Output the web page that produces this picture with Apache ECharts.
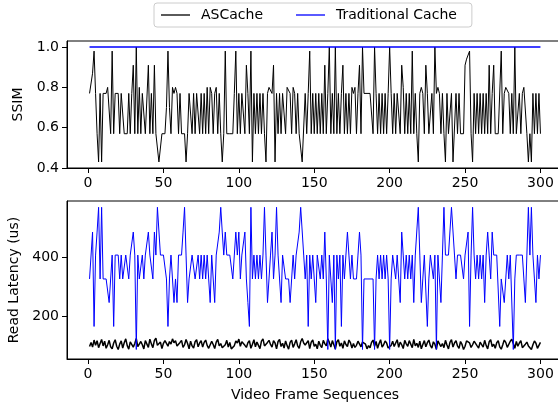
<!DOCTYPE html>
<html>
<head>
<meta charset="utf-8">
<script src="https://cdn.jsdelivr.net/npm/echarts@6/dist/echarts.min.js"></script>
<style>
  html, body { margin: 0; padding: 0; background: #fff; }
  #chart { width: 558px; height: 406px; }
</style>
</head>
<body>
<div id="chart"></div>
<script>
// frame index runs 1..300
const xTicks = [0, 50, 100, 150, 200, 250, 300]
const ssimTicks = [0.4, 0.6, 0.8, 1.0]
const latencyTicks = [200, 400]

// SSIM, ASCache
const ssimAscache = [
  0.77, 0.77, 0.87, 0.98, 0.77, 0.57, 0.43, 0.77, 0.43, 0.77,
  0.77, 0.77, 0.80, 0.80, 0.57, 0.98, 0.57, 0.77, 0.77, 0.77,
  0.57, 0.77, 0.77, 0.57, 0.57, 0.57, 0.77, 0.57, 0.77, 0.91,
  0.57, 1.00, 0.57, 0.80, 0.57, 0.77, 0.77, 0.57, 0.57, 0.91,
  0.57, 0.77, 0.57, 0.91, 0.57, 0.57, 0.43, 0.43, 0.57, 0.57,
  0.57, 0.70, 0.98, 0.70, 0.57, 0.80, 0.77, 0.80, 0.77, 0.57,
  0.77, 0.57, 0.57, 0.57, 0.43, 0.57, 0.77, 0.77, 0.57, 0.77,
  0.57, 0.77, 0.77, 0.57, 0.77, 0.57, 0.77, 0.57, 0.80, 0.57,
  0.80, 0.77, 0.57, 0.77, 0.80, 0.57, 0.77, 0.57, 0.43, 0.57,
  0.98, 0.57, 0.57, 0.57, 0.57, 0.57, 0.77, 0.98, 0.57, 0.77,
  0.57, 0.77, 0.77, 0.57, 0.91, 0.77, 0.57, 0.98, 0.43, 0.77,
  0.57, 0.77, 0.57, 0.77, 0.57, 0.77, 0.57, 0.43, 0.77, 0.80,
  0.80, 0.77, 0.91, 0.43, 0.77, 0.57, 0.77, 0.57, 0.77, 0.77,
  0.57, 0.80, 0.80, 0.77, 0.57, 0.80, 0.77, 0.57, 0.77, 0.57,
  0.57, 0.43, 0.43, 0.77, 0.57, 0.77, 0.98, 0.57, 0.77, 0.57,
  0.77, 0.57, 0.77, 0.57, 0.77, 0.57, 0.91, 0.57, 0.77, 1.00,
  0.57, 0.77, 0.57, 1.00, 0.57, 0.77, 0.57, 0.77, 0.91, 0.57,
  0.77, 0.57, 0.77, 0.57, 0.80, 0.77, 0.80, 0.57, 0.77, 0.91,
  0.57, 1.00, 0.77, 0.77, 0.77, 0.77, 0.77, 0.77, 0.57, 1.00,
  0.77, 0.57, 0.77, 0.57, 0.77, 0.57, 0.77, 0.57, 0.77, 1.00,
  0.77, 0.57, 0.77, 0.57, 0.77, 0.77, 0.57, 0.91, 0.80, 0.57,
  0.77, 0.57, 0.77, 0.57, 0.98, 0.57, 0.77, 0.57, 0.43, 0.77,
  0.80, 0.77, 0.57, 0.91, 0.77, 0.57, 0.57, 0.77, 0.57, 1.00,
  0.77, 0.80, 0.77, 0.57, 0.77, 0.57, 0.43, 0.77, 0.57, 0.57,
  0.77, 0.43, 0.43, 0.77, 0.57, 0.77, 0.57, 0.57, 0.57, 0.91,
  0.94, 0.94, 0.98, 0.57, 0.43, 0.77, 0.57, 0.77, 0.57, 0.77,
  0.57, 0.77, 0.57, 0.77, 0.57, 0.91, 0.57, 0.77, 0.91, 0.57,
  0.57, 0.57, 0.57, 0.98, 0.57, 0.77, 0.80, 0.80, 0.77, 0.57,
  0.77, 0.57, 1.00, 0.57, 0.57, 0.77, 0.57, 0.77, 0.80, 0.80,
  0.57, 0.43, 0.57, 0.43, 0.77, 0.57, 0.77, 0.57, 0.77, 0.57
]
// SSIM, traditional cache: flat at 1.0 for every frame
const ssimTraditional = new Array(300).fill(1.0)

// read latency (us), traditional cache
const latTraditional = [
  327, 327, 486, 166, 408, 486, 570, 327, 570, 327,
  327, 327, 327, 247, 247, 408, 166, 408, 408, 408,
  327, 408, 327, 327, 408, 408, 327, 408, 408, 486,
  408, 88, 408, 327, 327, 408, 327, 408, 408, 486,
  408, 408, 327, 486, 408, 570, 570, 408, 408, 408,
  408, 327, 166, 327, 408, 408, 247, 327, 247, 408,
  408, 408, 486, 570, 408, 247, 327, 327, 408, 408,
  327, 327, 408, 327, 408, 327, 408, 327, 408, 327,
  247, 408, 408, 247, 408, 408, 486, 570, 486, 408,
  486, 408, 408, 408, 408, 327, 408, 486, 408, 486,
  327, 408, 408, 486, 327, 247, 166, 570, 327, 408,
  327, 408, 327, 408, 327, 408, 570, 408, 247, 327,
  408, 486, 327, 408, 570, 408, 327, 247, 408, 408,
  327, 327, 327, 247, 327, 408, 327, 408, 408, 486,
  570, 570, 408, 327, 408, 166, 408, 327, 408, 327,
  247, 408, 408, 327, 408, 327, 486, 327, 88, 408,
  408, 247, 408, 88, 408, 327, 408, 166, 408, 327,
  408, 486, 408, 327, 408, 327, 327, 327, 408, 486,
  408, 88, 327, 327, 327, 327, 327, 327, 327, 88,
  327, 408, 327, 408, 327, 408, 327, 408, 327, 88,
  327, 408, 408, 327, 408, 327, 247, 486, 408, 327,
  408, 327, 408, 327, 408, 247, 408, 408, 570, 408,
  247, 327, 408, 408, 166, 327, 408, 408, 327, 408,
  88, 408, 408, 247, 408, 570, 408, 408, 408, 408,
  570, 570, 408, 327, 408, 408, 408, 408, 327, 408,
  408, 486, 166, 408, 570, 408, 327, 408, 327, 408,
  327, 408, 247, 408, 486, 408, 327, 486, 408, 408,
  408, 408, 166, 327, 327, 247, 247, 408, 327, 408,
  408, 88, 327, 408, 408, 408, 408, 408, 327, 247,
  408, 570, 408, 570, 408, 327, 247, 408, 327, 408
]

// read latency (us), ASCache
const latAscache = [
  98, 112, 96, 120, 102, 118, 94, 108, 122, 100,
  116, 92, 104, 119, 97, 90, 110, 121, 99, 88,
  106, 117, 93, 111, 124, 101, 89, 114, 120, 96,
  108, 125, 98, 92, 115, 104, 90, 118, 112, 95,
  123, 107, 94, 119, 126, 102, 97, 113, 91, 109,
  118, 121, 99, 115, 106, 124, 111, 118, 100, 96,
  112, 119, 95, 104, 122, 108, 90, 116, 100, 93,
  114, 121, 97, 110, 118, 96, 112, 120, 102, 92,
  98, 116, 105, 91, 113, 122, 100, 108, 94, 89,
  104, 119, 96, 112, 90, 88, 101, 117, 110, 123,
  99, 114, 120, 102, 95, 111, 118, 92, 106, 121,
  97, 113, 108, 91, 116, 124, 100, 94, 112, 119,
  105, 96, 118, 110, 90, 115, 122, 98, 109, 93,
  117, 101, 89, 112, 120, 95, 107, 121, 100, 92,
  114, 125, 110, 103, 97, 118, 91, 113, 120, 99,
  106, 90, 116, 102, 94, 119, 108, 100, 124, 112,
  96, 118, 104, 90, 114, 121, 99, 110, 92, 117,
  105, 98, 120, 111, 93, 108, 95, 102, 116, 122,
  97, 113, 118, 106, 90, 101, 94, 112, 120, 99,
  115, 92, 108, 121, 96, 104, 117, 110, 93, 87,
  102, 116, 98, 110, 121, 95, 113, 104, 91, 119,
  107, 99, 118, 112, 94, 122, 100, 109, 95, 116,
  90, 105, 118, 97, 111, 120, 101, 93, 114, 106,
  89, 117, 122, 98, 108, 94, 119, 103, 90, 112,
  121, 96, 110, 118, 100, 92, 115, 105, 88, 99,
  117, 120, 110, 95, 104, 116, 122, 100, 93, 113,
  108, 96, 119, 102, 90, 114, 121, 98, 106, 92,
  111, 118, 97, 89, 104, 120, 112, 95, 101, 116,
  123, 108, 92, 115, 99, 110, 118, 94, 90, 106,
  113, 100, 96, 88, 104, 117, 109, 92, 98, 112
]

const FONT = 'DejaVu Sans'
const toPairs = arr => arr.map((v, i) => [i + 1, v])

function xAxisOf(gridIndex, name) {
  return {
    gridIndex,
    type: 'value',
    min: -13.95,
    max: 314.95,
    name,
    nameLocation: 'middle',
    nameGap: 29,
    nameTextStyle: { color: '#000', fontFamily: FONT, fontSize: 14 },
    axisLine: { show: true, onZero: false, lineStyle: { color: '#000', width: 1 } },
    axisTick: { show: true, length: 5, customValues: xTicks, lineStyle: { color: '#000' } },
    axisLabel: { customValues: xTicks, margin: 8, color: '#000', fontFamily: FONT, fontSize: 14 },
    splitLine: { show: false }
  }
}

function yAxisOf(gridIndex, min, max, ticks, name, gap, fmt) {
  return {
    gridIndex,
    type: 'value',
    min,
    max,
    name,
    nameLocation: 'middle',
    nameGap: gap,
    nameRotate: 90,
    nameTextStyle: { color: '#000', fontFamily: FONT, fontSize: 14 },
    axisLine: { show: true, onZero: false, lineStyle: { color: '#000', width: 1 } },
    axisTick: { show: true, length: 5, customValues: ticks, lineStyle: { color: '#000' } },
    axisLabel: { customValues: ticks, margin: 8, color: '#000', fontFamily: FONT, fontSize: 14, formatter: fmt },
    splitLine: { show: false }
  }
}

const chart = echarts.init(document.getElementById('chart'), null, { renderer: 'canvas' })
chart.setOption({
  animation: false,
  backgroundColor: '#fff',
  legend: {
    data: ['ASCache', 'Traditional Cache'],
    left: 154,
    top: 3,
    padding: [5, 15, 5, 7],
    icon: 'rect',
    itemWidth: 29,
    itemHeight: 1.3,
    itemGap: 33,
    borderColor: '#cccccc',
    borderWidth: 1,
    borderRadius: 3,
    textStyle: { color: '#000', fontFamily: FONT, fontSize: 14, padding: [0, 0, 0, 6] }
  },
  grid: [
    { left: 67, top: 41, width: 496, height: 127, show: true, borderColor: '#000', borderWidth: 1, outerBoundsMode: 'none', containLabel: false },
    { left: 67, top: 201, width: 496, height: 158, show: true, borderColor: '#000', borderWidth: 1, outerBoundsMode: 'none', containLabel: false }
  ],
  xAxis: [
    xAxisOf(0, ''),
    xAxisOf(1, 'Video Frame Sequences')
  ],
  yAxis: [
    yAxisOf(0, 0.4, 1.03, ssimTicks, 'SSIM', 40, v => v.toFixed(1)),
    yAxisOf(1, 55.7, 591.3, latencyTicks, 'Read Latency (us)', 45, v => String(v))
  ],
  series: [
    {
      name: 'ASCache', type: 'line', xAxisIndex: 0, yAxisIndex: 0,
      symbol: 'none', data: toPairs(ssimAscache),
      lineStyle: { color: '#000', width: 1 }, itemStyle: { color: '#000' }
    },
    {
      name: 'Traditional Cache', type: 'line', xAxisIndex: 0, yAxisIndex: 0,
      symbol: 'none', data: toPairs(ssimTraditional),
      lineStyle: { color: '#0000ff', width: 1.6 }, itemStyle: { color: '#0000ff' }
    },
    {
      name: 'ASCache', type: 'line', xAxisIndex: 1, yAxisIndex: 1,
      symbol: 'none', data: toPairs(latAscache),
      lineStyle: { color: '#000', width: 1.5 }, itemStyle: { color: '#000' }
    },
    {
      name: 'Traditional Cache', type: 'line', xAxisIndex: 1, yAxisIndex: 1,
      symbol: 'none', data: toPairs(latTraditional),
      lineStyle: { color: '#0000ff', width: 1 }, itemStyle: { color: '#0000ff' }
    }
  ]
})
window.addEventListener('resize', () => chart.resize())
</script>
</body>
</html>
